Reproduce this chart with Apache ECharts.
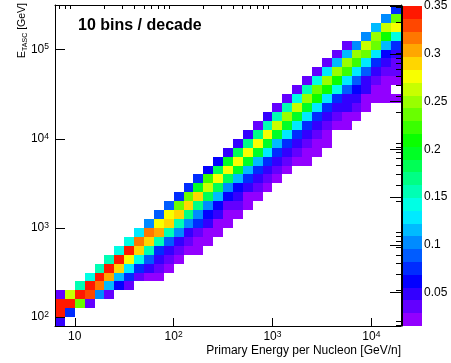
<!DOCTYPE html>
<html><head><meta charset="utf-8">
<script src="https://cdn.jsdelivr.net/npm/echarts@6/dist/echarts.min.js"></script>
<style>html,body{margin:0;padding:0;background:#fff}#c{width:451px;height:363px}</style>
</head><body><div id="c"></div>
<script>
// log10 bin edges (10 bins / decade)
const xEdgeExp = [0.8,0.9,1.0,1.1,1.2,1.3,1.4,1.5,1.6,1.7,1.8,1.9,2.0,2.1,2.2,2.3,2.4,2.5,2.6,2.7,2.8,2.9,3.0,3.1,3.2,3.3,3.4,3.5,3.6,3.7,3.8,3.9,4.0,4.1,4.2,4.3];
const yEdgeExp = [1.9,2.0,2.1,2.2,2.3,2.4,2.5,2.6,2.7,2.8,2.9,3.0,3.1,3.2,3.3,3.4,3.5,3.6,3.7,3.8,3.9,4.0,4.1,4.2,4.3,4.4,4.5,4.6,4.7,4.8,4.9,5.0,5.1,5.2,5.3,5.4,5.5];
// first filled y-bin of each x-bin column, and the column contents from that bin upward
const colFirstRow = [0,1,2,2,3,3,4,4,5,5,5,6,7,8,8,9,10,11,12,13,14,15,16,17,18,18,19,20,22,22,23,24,25,25,25];
const colValues = [
  [0.048,0.36,0.36,0.035],
  [0.08,0.36,0.263],
  [0.236,0.345,0.16],
  [0.035,0.33,0.35,0.142],
  [0.102,0.316,0.35,0.156],
  [0.035,0.116,0.303,0.35,0.156],
  [0.062,0.116,0.29,0.345,0.142],
  [0.035,0.07,0.129,0.276,0.345,0.142],
  [0.04,0.075,0.142,0.29,0.316,0.135],
  [0.022,0.048,0.089,0.156,0.29,0.316,0.102],
  [0.022,0.03,0.045,0.075,0.156,0.303,0.276,0.089],
  [0.025,0.035,0.048,0.089,0.15,0.29,0.276,0.089],
  [0.022,0.035,0.048,0.102,0.156,0.29,0.236,0.08],
  [0.025,0.035,0.05,0.1,0.169,0.29,0.236,0.075],
  [0.02,0.028,0.035,0.07,0.1,0.169,0.29,0.196,0.075],
  [0.02,0.025,0.042,0.058,0.1,0.183,0.263,0.223,0.062],
  [0.02,0.025,0.042,0.058,0.116,0.183,0.276,0.183,0.062],
  [0.02,0.025,0.035,0.06,0.1,0.183,0.276,0.19,0.05],
  [0.025,0.035,0.045,0.06,0.116,0.196,0.27,0.183,0.05],
  [0.025,0.025,0.045,0.08,0.116,0.196,0.276,0.169,0.05],
  [0.025,0.03,0.045,0.07,0.116,0.196,0.276,0.169,0.035],
  [0.025,0.03,0.045,0.07,0.129,0.196,0.276,0.156,0.048],
  [0.025,0.03,0.05,0.075,0.116,0.196,0.263,0.156,0.035],
  [0.025,0.035,0.045,0.07,0.129,0.196,0.25,0.156,0.035],
  [0.025,0.04,0.048,0.075,0.129,0.196,0.263,0.142,0.035],
  [0.022,0.025,0.035,0.048,0.075,0.129,0.2,0.256,0.15,0.035],
  [0.022,0.025,0.035,0.048,0.075,0.129,0.209,0.236,0.142,0.035],
  [0.022,0.025,0.035,0.048,0.075,0.129,0.215,0.25,0.129,0.03],
  [0.025,0.035,0.048,0.08,0.145,0.209,0.25,0.116,0.03],
  [0.022,0.025,0.045,0.045,0.089,0.129,0.223,0.256,0.116,0.03],
  [0.025,0.035,0.045,0.062,0.089,0.129,0.223,0.25,0.1],
  [0.025,0.025,0.042,0.048,0.089,0.129,0.236,0.263,0.1],
  [0.022,0.025,0.035,0.048,0.075,0.129,0.236,0.25,0.116],
  [0.022,0.025,0.025,0.035,0.048,0.062,0.116,0.215,0.263,0.1],
  [0.022,0,0.022,0.03,0.035,0.048,0.075,0.142,0.276,0.236,0.07]
];
const xMajorTicks = [10,100,1000,10000];
const xMinorTicks = [7,8,9,20,30,40,50,60,70,80,90,200,300,400,500,600,700,800,900,2000,3000,4000,5000,6000,7000,8000,9000];
const yMajorTicks = [100,1000,10000,100000];
const yMinorTicks = [80,90,200,300,400,500,600,700,800,900,2000,3000,4000,5000,6000,7000,8000,9000,20000,30000,40000,50000,60000,70000,80000,90000,200000,300000];
const zTicks = [0.05,0.1,0.15,0.2,0.25,0.3,0.35];
const zBandEdges = [0.015,0.0284,0.0418,0.0552,0.0686,0.082,0.0954,0.1088,0.1222,0.1356,0.149,0.1624,0.1758,0.1892,0.2026,0.216,0.2294,0.2428,0.2562,0.2696,0.283,0.2964,0.3098,0.3232,0.3366,0.35];
const zBandColors = ['#9200ff','#6300ff','#3300ff','#0300ff','#002cff','#005cff','#008bff','#00bbff','#00eaff','#00ffe4','#00ffb4','#00ff85','#00ff55','#00ff25','#0aff00','#3aff00','#69ff00','#99ff00','#c8ff00','#f8ff00','#ffd600','#ffa700','#ff7700','#ff4700','#ff1800'];

const FONT = '"Liberation Sans", Arial, Helvetica, sans-serif';
const p10 = e => Math.pow(10, e);

const cells = [];
colValues.forEach((vals, i) => {
  vals.forEach((v, k) => {
    if (v <= 0) return;
    const j = colFirstRow[i] + k;
    cells.push([p10(xEdgeExp[i]), p10(xEdgeExp[i+1]), p10(yEdgeExp[j]), p10(yEdgeExp[j+1]), v]);
  });
});
const barCells = zBandColors.map((c, k) => [0, 1, zBandEdges[k], zBandEdges[k+1], (zBandEdges[k] + zBandEdges[k+1]) / 2]);
const pieces = zBandColors.map((c, k) => {
  const p = { gte: zBandEdges[k], color: c };
  if (k < zBandColors.length - 1) p.lt = zBandEdges[k+1];
  return p;
});

function rectItem(params, api) {
  const a = api.coord([api.value(0), api.value(2)]);
  const b = api.coord([api.value(1), api.value(3)]);
  const x0 = Math.round(a[0]), x1 = Math.round(b[0]);
  const y0 = Math.round(b[1]), y1 = Math.round(a[1]);
  return { type: 'rect', shape: { x: x0, y: y0, width: x1 - x0, height: y1 - y0 }, style: { fill: api.visual('color') } };
}

const powLabel = v => {
  const e = Math.round(Math.log10(v));
  return e === 1 ? '{b|10}' : '{b|10}{s|' + e + '}';
};
const powRich = {
  b: { fontSize: 12, fontFamily: FONT, color: '#000', lineHeight: 14 },
  s: { fontSize: 8.5, fontFamily: FONT, color: '#000', verticalAlign: 'top', lineHeight: 9 }
};

const xmin = p10(xEdgeExp[0]), xmax = p10(xEdgeExp[xEdgeExp.length-1]);
const ymin = p10(yEdgeExp[0]), ymax = p10(yEdgeExp[yEdgeExp.length-1]);
const black = { color: '#000', width: 1 };

const chart = echarts.init(document.getElementById('c'), null, { renderer: 'canvas' });
chart.setOption({
  animation: false,
  backgroundColor: '#fff',
  grid: [
    { left: 55, top: 5, width: 346, height: 321, containLabel: false },
    { left: 402, top: 5, width: 20, height: 321, containLabel: false }
  ],
  xAxis: [
    { type: 'log', gridIndex: 0, min: xmin, max: xmax, z: 5,
      axisLine: { show: true, lineStyle: black },
      axisTick: { show: true, inside: true, length: 8, customValues: xMajorTicks, lineStyle: black },
      axisLabel: { customValues: xMajorTicks, formatter: powLabel, rich: powRich, margin: 4 },
      splitLine: { show: false } },
    { type: 'log', gridIndex: 0, min: xmin, max: xmax, z: 5,
      axisLine: { show: false },
      axisTick: { show: true, inside: true, length: 4, customValues: xMinorTicks, lineStyle: black },
      axisLabel: { show: false }, splitLine: { show: false } },
    { type: 'log', gridIndex: 0, min: xmin, max: xmax, position: 'top', z: 5,
      axisLine: { show: true, lineStyle: black }, axisTick: { show: false },
      axisLabel: { show: false }, splitLine: { show: false } },
    { type: 'value', gridIndex: 1, min: 0, max: 1, show: false }
  ],
  yAxis: [
    { type: 'log', gridIndex: 0, min: ymin, max: ymax, z: 5,
      axisLine: { show: true, lineStyle: black },
      axisTick: { show: true, inside: true, length: 10, customValues: yMajorTicks, lineStyle: black },
      axisLabel: { customValues: yMajorTicks, formatter: powLabel, rich: powRich, margin: 6 },
      splitLine: { show: false } },
    { type: 'log', gridIndex: 0, min: ymin, max: ymax, z: 5,
      axisLine: { show: false },
      axisTick: { show: true, inside: true, length: 5, customValues: yMinorTicks, lineStyle: black },
      axisLabel: { show: false }, splitLine: { show: false } },
    { type: 'log', gridIndex: 0, min: ymin, max: ymax, position: 'right', z: 5,
      axisLine: { show: true, lineStyle: black }, axisTick: { show: false },
      axisLabel: { show: false }, splitLine: { show: false } },
    { type: 'value', gridIndex: 1, min: zBandEdges[0], max: zBandEdges[zBandEdges.length-1], position: 'right', z: 5,
      axisLine: { show: true, lineStyle: black },
      axisTick: { show: true, inside: true, length: 12, customValues: zTicks, lineStyle: black },
      axisLabel: { customValues: zTicks, formatter: v => String(Math.round(v * 100) / 100), margin: 2,
        fontSize: 12, fontFamily: FONT, color: '#000' },
      splitLine: { show: false } }
  ],
  visualMap: {
    type: 'piecewise', show: false, dimension: 4, seriesIndex: [0, 1], pieces: pieces
  },
  series: [
    { type: 'custom', coordinateSystem: 'cartesian2d', xAxisIndex: 0, yAxisIndex: 0, z: 2,
      clip: true, data: cells, encode: { x: [0, 1], y: [2, 3] }, renderItem: rectItem, silent: true },
    { type: 'custom', coordinateSystem: 'cartesian2d', xAxisIndex: 3, yAxisIndex: 3, z: 2,
      clip: true, data: barCells, encode: { x: [0, 1], y: [2, 3] }, renderItem: rectItem, silent: true }
  ],
  graphic: [
    { type: 'text', x: 78, y: 26, z: 10,
      style: { text: '10 bins / decade', font: 'bold 16px ' + FONT, fill: '#000', align: 'left', verticalAlign: 'middle' } },
    { type: 'text', x: 401, y: 351, z: 10,
      style: { text: 'Primary Energy per Nucleon [GeV/n]', font: '12px ' + FONT, fill: '#000', align: 'right', verticalAlign: 'middle' } },
    { type: 'text', x: 22, y: 3, rotation: Math.PI / 2, z: 10,
      style: { text: '{n|E}{s|TASC}{n| [GeV]}', align: 'right', verticalAlign: 'middle',
        rich: { n: { fontSize: 10.5, fontFamily: FONT, fill: '#000', lineHeight: 13 },
                s: { fontSize: 7, fontFamily: FONT, fill: '#000', verticalAlign: 'bottom', lineHeight: 9 } } } }
  ]
});
</script></body></html>
